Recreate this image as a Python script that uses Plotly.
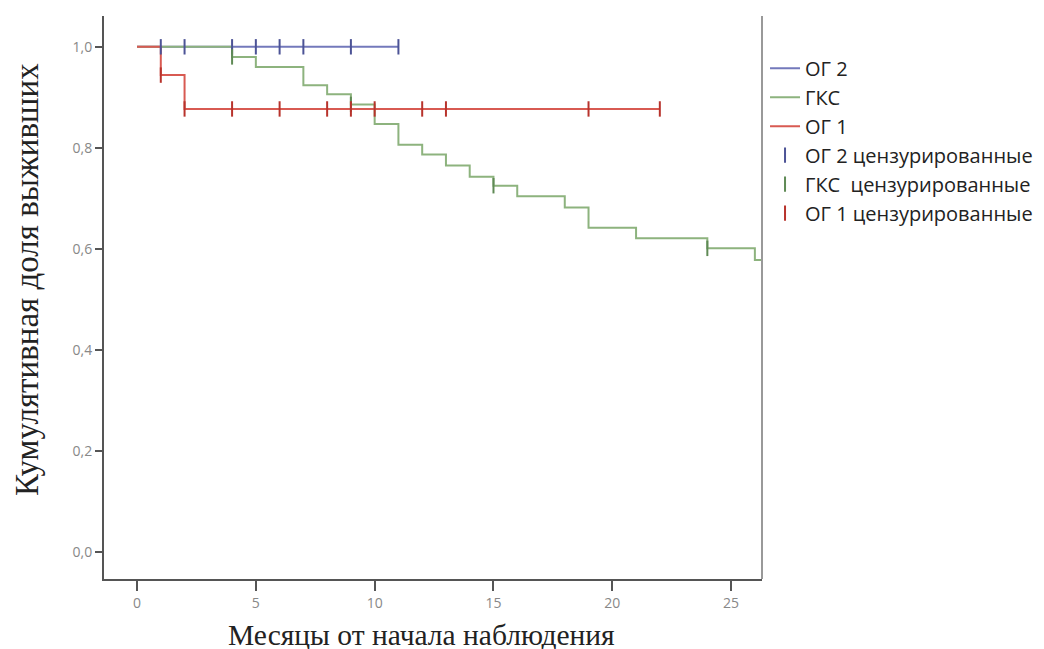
import numpy as np
import plotly.graph_objects as go

# ---- data ----
og2_t = [0, 11]
og2_s = [1.0, 1.0]
og2_cens = [1, 2, 4, 5, 6, 7, 9, 11]

gks_t = [0, 4, 5, 7, 8, 9, 10, 11, 12, 13, 14, 15, 16, 18, 19, 21, 24, 26, 26.3]
gks_s = [1.0, 0.980, 0.960, 0.924, 0.906, 0.886, 0.847, 0.806, 0.787, 0.765, 0.743, 0.725,
         0.704, 0.682, 0.642, 0.621, 0.601, 0.578, 0.578]
gks_cens = [4, 9, 15, 24]

og1_t = [0, 1, 2, 22]
og1_s = [1.0, 0.944, 0.877, 0.877]
og1_cens = [1, 2, 4, 6, 8, 9, 10, 12, 13, 19, 22]

x_ticks = [0, 5, 10, 15, 20, 25]
y_ticks = [0.0, 0.2, 0.4, 0.6, 0.8, 1.0]


def step_value(ts, ss, x):
    idx = np.searchsorted(np.array(ts), x, side="right") - 1
    return [ss[i] for i in idx]


col_blue = "#7379bb"
col_green = "#8db37e"
col_red = "#d85a52"
col_blue_d = "#4c5396"
col_green_d = "#5f8a55"
col_red_d = "#b8332c"

fig = go.Figure()
for name, t, s, c in [("ОГ 2", og2_t, og2_s, col_blue),
                      ("ГКС", gks_t, gks_s, col_green),
                      ("ОГ 1", og1_t, og1_s, col_red)]:
    fig.add_trace(go.Scatter(x=t, y=s, mode="lines", line=dict(color=c, width=2, shape="hv"),
                             name=name))

for name, t, s, cens, c in [("ОГ 2 цензурированные", og2_t, og2_s, og2_cens, col_blue_d),
                            ("ГКС  цензурированные", gks_t, gks_s, gks_cens, col_green_d),
                            ("ОГ 1 цензурированные", og1_t, og1_s, og1_cens, col_red_d)]:
    fig.add_trace(go.Scatter(x=cens, y=step_value(t, s, cens), mode="markers",
                             marker=dict(symbol="line-ns-open", size=11, color=c,
                                         line=dict(color=c, width=2)),
                             name=name))

fig.update_layout(
    width=1044, height=649,
    margin=dict(l=96, r=290, t=8, b=78),
    paper_bgcolor="white", plot_bgcolor="white",
    separators=", ",
    showlegend=True,
    legend=dict(x=1.0046, y=0.942, xanchor="left", yanchor="top",
                font=dict(family="Open Sans", size=20, color="#222"),
                itemwidth=30, tracegroupgap=0, bgcolor="rgba(0,0,0,0)"),
    font=dict(family="Open Sans"),
    shapes=[dict(type="line", xref="paper", yref="paper", x0=1, x1=1, y0=0, y1=1,
                 line=dict(color="#999", width=2))],
    annotations=[
        dict(text="Кумулятивная доля выживших", xref="paper", yref="paper",
             x=-0.117, y=0.531, xanchor="center", yanchor="middle", textangle=-90,
             showarrow=False, font=dict(family="Liberation Serif", size=33, color="#222")),
        dict(text="Месяцы от начала наблюдения", xref="paper", yref="paper",
             x=0.4818, y=-0.0995, xanchor="center", yanchor="middle",
             showarrow=False, font=dict(family="Liberation Serif", size=29.5, color="#222")),
    ],
)
fig.update_xaxes(range=[-1.39, 26.3], tickvals=x_ticks, ticks="outside", ticklen=10,
                 tickwidth=2, tickcolor="#555", showline=True, linecolor="#555", linewidth=2,
                 showgrid=False, zeroline=False, mirror=False,
                 tickfont=dict(family="Open Sans", size=14, color="#888"))
fig.update_yaxes(range=[-0.0535, 1.061], tickvals=y_ticks, tickformat=".1f", ticks="outside",
                 ticklen=7, tickwidth=2, tickcolor="#555", showline=True, linecolor="#555",
                 linewidth=2, showgrid=False, zeroline=False, mirror=False,
                 tickfont=dict(family="Open Sans", size=14, color="#888"))

fig.write_html("out.html")
